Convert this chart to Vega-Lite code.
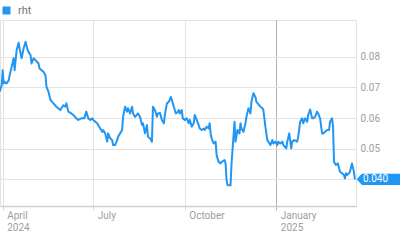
{
  "$schema": "https://vega.github.io/schema/vega-lite/v6.json",
  "autosize": {"type": "none"},
  "padding": {"left": 0, "top": 20, "right": 44, "bottom": 34},
  "width": 356,
  "height": 186,
  "config": {
    "font": "Roboto",
    "view": {"stroke": "#e3e3e3"},
    "legend": {"padding": 0}
  },
  "data": {"values": [
    {"date": "2024-03-29", "v": 0.0686},
    {"date": "2024-03-31", "v": 0.0707},
    {"date": "2024-04-01", "v": 0.0756},
    {"date": "2024-04-02", "v": 0.0713},
    {"date": "2024-04-03", "v": 0.0718},
    {"date": "2024-04-05", "v": 0.0713},
    {"date": "2024-04-07", "v": 0.0723},
    {"date": "2024-04-08", "v": 0.0740},
    {"date": "2024-04-10", "v": 0.0767},
    {"date": "2024-04-12", "v": 0.0795},
    {"date": "2024-04-13", "v": 0.0756},
    {"date": "2024-04-15", "v": 0.0822},
    {"date": "2024-04-17", "v": 0.0846},
    {"date": "2024-04-18", "v": 0.0827},
    {"date": "2024-04-20", "v": 0.0795},
    {"date": "2024-04-22", "v": 0.0827},
    {"date": "2024-04-24", "v": 0.0849},
    {"date": "2024-04-26", "v": 0.0822},
    {"date": "2024-04-27", "v": 0.0816},
    {"date": "2024-04-29", "v": 0.0805},
    {"date": "2024-04-30", "v": 0.0778},
    {"date": "2024-05-02", "v": 0.0795},
    {"date": "2024-05-04", "v": 0.0789},
    {"date": "2024-05-07", "v": 0.0778},
    {"date": "2024-05-08", "v": 0.0762},
    {"date": "2024-05-12", "v": 0.0751},
    {"date": "2024-05-14", "v": 0.0740},
    {"date": "2024-05-15", "v": 0.0702},
    {"date": "2024-05-17", "v": 0.0686},
    {"date": "2024-05-19", "v": 0.0659},
    {"date": "2024-05-22", "v": 0.0648},
    {"date": "2024-05-25", "v": 0.0637},
    {"date": "2024-05-29", "v": 0.0626},
    {"date": "2024-05-30", "v": 0.0632},
    {"date": "2024-06-01", "v": 0.0642},
    {"date": "2024-06-03", "v": 0.0637},
    {"date": "2024-06-04", "v": 0.0648},
    {"date": "2024-06-06", "v": 0.0621},
    {"date": "2024-06-09", "v": 0.0615},
    {"date": "2024-06-11", "v": 0.0610},
    {"date": "2024-06-14", "v": 0.0599},
    {"date": "2024-06-16", "v": 0.0594},
    {"date": "2024-06-19", "v": 0.0599},
    {"date": "2024-06-22", "v": 0.0599},
    {"date": "2024-06-24", "v": 0.0621},
    {"date": "2024-06-26", "v": 0.0599},
    {"date": "2024-06-28", "v": 0.0594},
    {"date": "2024-06-30", "v": 0.0599},
    {"date": "2024-07-01", "v": 0.0594},
    {"date": "2024-07-05", "v": 0.0583},
    {"date": "2024-07-08", "v": 0.0566},
    {"date": "2024-07-10", "v": 0.0555},
    {"date": "2024-07-11", "v": 0.0561},
    {"date": "2024-07-13", "v": 0.0550},
    {"date": "2024-07-15", "v": 0.0523},
    {"date": "2024-07-16", "v": 0.0550},
    {"date": "2024-07-18", "v": 0.0534},
    {"date": "2024-07-20", "v": 0.0528},
    {"date": "2024-07-21", "v": 0.0512},
    {"date": "2024-07-23", "v": 0.0512},
    {"date": "2024-07-25", "v": 0.0528},
    {"date": "2024-07-26", "v": 0.0539},
    {"date": "2024-07-28", "v": 0.0550},
    {"date": "2024-07-30", "v": 0.0561},
    {"date": "2024-07-31", "v": 0.0604},
    {"date": "2024-08-02", "v": 0.0637},
    {"date": "2024-08-04", "v": 0.0621},
    {"date": "2024-08-05", "v": 0.0632},
    {"date": "2024-08-07", "v": 0.0615},
    {"date": "2024-08-09", "v": 0.0637},
    {"date": "2024-08-10", "v": 0.0615},
    {"date": "2024-08-12", "v": 0.0604},
    {"date": "2024-08-15", "v": 0.0615},
    {"date": "2024-08-17", "v": 0.0604},
    {"date": "2024-08-19", "v": 0.0577},
    {"date": "2024-08-20", "v": 0.0583},
    {"date": "2024-08-22", "v": 0.0550},
    {"date": "2024-08-24", "v": 0.0577},
    {"date": "2024-08-25", "v": 0.0539},
    {"date": "2024-08-27", "v": 0.0534},
    {"date": "2024-08-29", "v": 0.0523},
    {"date": "2024-08-30", "v": 0.0637},
    {"date": "2024-09-01", "v": 0.0626},
    {"date": "2024-09-03", "v": 0.0604},
    {"date": "2024-09-04", "v": 0.0615},
    {"date": "2024-09-06", "v": 0.0617},
    {"date": "2024-09-08", "v": 0.0594},
    {"date": "2024-09-10", "v": 0.0583},
    {"date": "2024-09-11", "v": 0.0610},
    {"date": "2024-09-13", "v": 0.0648},
    {"date": "2024-09-15", "v": 0.0653},
    {"date": "2024-09-17", "v": 0.0669},
    {"date": "2024-09-19", "v": 0.0648},
    {"date": "2024-09-20", "v": 0.0637},
    {"date": "2024-09-22", "v": 0.0615},
    {"date": "2024-09-24", "v": 0.0620},
    {"date": "2024-09-25", "v": 0.0626},
    {"date": "2024-09-26", "v": 0.0615},
    {"date": "2024-09-28", "v": 0.0626},
    {"date": "2024-09-29", "v": 0.0599},
    {"date": "2024-10-01", "v": 0.0594},
    {"date": "2024-10-03", "v": 0.0599},
    {"date": "2024-10-05", "v": 0.0583},
    {"date": "2024-10-06", "v": 0.0594},
    {"date": "2024-10-08", "v": 0.0572},
    {"date": "2024-10-10", "v": 0.0583},
    {"date": "2024-10-11", "v": 0.0610},
    {"date": "2024-10-13", "v": 0.0594},
    {"date": "2024-10-15", "v": 0.0577},
    {"date": "2024-10-16", "v": 0.0566},
    {"date": "2024-10-18", "v": 0.0561},
    {"date": "2024-10-20", "v": 0.0566},
    {"date": "2024-10-21", "v": 0.0561},
    {"date": "2024-10-23", "v": 0.0572},
    {"date": "2024-10-25", "v": 0.0566},
    {"date": "2024-10-26", "v": 0.0583},
    {"date": "2024-10-27", "v": 0.0550},
    {"date": "2024-10-28", "v": 0.0534},
    {"date": "2024-10-30", "v": 0.0517},
    {"date": "2024-11-01", "v": 0.0523},
    {"date": "2024-11-02", "v": 0.0479},
    {"date": "2024-11-04", "v": 0.0457},
    {"date": "2024-11-06", "v": 0.0452},
    {"date": "2024-11-07", "v": 0.0457},
    {"date": "2024-11-10", "v": 0.0463},
    {"date": "2024-11-11", "v": 0.0452},
    {"date": "2024-11-12", "v": 0.0398},
    {"date": "2024-11-13", "v": 0.0381},
    {"date": "2024-11-16", "v": 0.0381},
    {"date": "2024-11-17", "v": 0.0452},
    {"date": "2024-11-20", "v": 0.0588},
    {"date": "2024-11-21", "v": 0.0523},
    {"date": "2024-11-23", "v": 0.0561},
    {"date": "2024-11-25", "v": 0.0550},
    {"date": "2024-11-26", "v": 0.0583},
    {"date": "2024-11-27", "v": 0.0566},
    {"date": "2024-11-29", "v": 0.0555},
    {"date": "2024-12-01", "v": 0.0583},
    {"date": "2024-12-02", "v": 0.0604},
    {"date": "2024-12-04", "v": 0.0632},
    {"date": "2024-12-06", "v": 0.0615},
    {"date": "2024-12-07", "v": 0.0653},
    {"date": "2024-12-09", "v": 0.0681},
    {"date": "2024-12-11", "v": 0.0669},
    {"date": "2024-12-12", "v": 0.0653},
    {"date": "2024-12-16", "v": 0.0637},
    {"date": "2024-12-18", "v": 0.0632},
    {"date": "2024-12-19", "v": 0.0626},
    {"date": "2024-12-21", "v": 0.0572},
    {"date": "2024-12-23", "v": 0.0528},
    {"date": "2024-12-24", "v": 0.0523},
    {"date": "2024-12-26", "v": 0.0512},
    {"date": "2024-12-28", "v": 0.0528},
    {"date": "2024-12-29", "v": 0.0517},
    {"date": "2024-12-31", "v": 0.0523},
    {"date": "2025-01-02", "v": 0.0512},
    {"date": "2025-01-03", "v": 0.0523},
    {"date": "2025-01-05", "v": 0.0517},
    {"date": "2025-01-07", "v": 0.0523},
    {"date": "2025-01-08", "v": 0.0512},
    {"date": "2025-01-11", "v": 0.0501},
    {"date": "2025-01-12", "v": 0.0523},
    {"date": "2025-01-14", "v": 0.0550},
    {"date": "2025-01-16", "v": 0.0501},
    {"date": "2025-01-17", "v": 0.0523},
    {"date": "2025-01-19", "v": 0.0528},
    {"date": "2025-01-22", "v": 0.0523},
    {"date": "2025-01-23", "v": 0.0539},
    {"date": "2025-01-25", "v": 0.0588},
    {"date": "2025-01-27", "v": 0.0599},
    {"date": "2025-01-28", "v": 0.0583},
    {"date": "2025-01-30", "v": 0.0599},
    {"date": "2025-02-01", "v": 0.0588},
    {"date": "2025-02-02", "v": 0.0610},
    {"date": "2025-02-04", "v": 0.0628},
    {"date": "2025-02-06", "v": 0.0599},
    {"date": "2025-02-07", "v": 0.0599},
    {"date": "2025-02-09", "v": 0.0604},
    {"date": "2025-02-11", "v": 0.0621},
    {"date": "2025-02-12", "v": 0.0615},
    {"date": "2025-02-14", "v": 0.0599},
    {"date": "2025-02-16", "v": 0.0550},
    {"date": "2025-02-17", "v": 0.0550},
    {"date": "2025-02-19", "v": 0.0555},
    {"date": "2025-02-21", "v": 0.0561},
    {"date": "2025-02-23", "v": 0.0561},
    {"date": "2025-02-24", "v": 0.0588},
    {"date": "2025-02-26", "v": 0.0599},
    {"date": "2025-02-27", "v": 0.0572},
    {"date": "2025-02-28", "v": 0.0457},
    {"date": "2025-03-02", "v": 0.0447},
    {"date": "2025-03-04", "v": 0.0452},
    {"date": "2025-03-05", "v": 0.0436},
    {"date": "2025-03-06", "v": 0.0425},
    {"date": "2025-03-08", "v": 0.0420},
    {"date": "2025-03-10", "v": 0.0414},
    {"date": "2025-03-11", "v": 0.0403},
    {"date": "2025-03-12", "v": 0.0420},
    {"date": "2025-03-13", "v": 0.0414},
    {"date": "2025-03-15", "v": 0.0420},
    {"date": "2025-03-16", "v": 0.0425},
    {"date": "2025-03-18", "v": 0.0452},
    {"date": "2025-03-20", "v": 0.0425},
    {"date": "2025-03-21", "v": 0.0400}
  ]},
  "encoding": {
    "x": {
      "field": "date",
      "type": "temporal",
      "scale": {
        "type": "utc",
        "domain": [
          {"year": 2024, "month": 3, "date": 29, "hours": 7, "utc": true},
          {"year": 2025, "month": 3, "date": 22, "hours": 2, "utc": true}
        ]
      },
      "axis": {
        "title": null,
        "orient": "bottom",
        "values": [
          {"year": 2024, "month": 4, "date": 1, "utc": true},
          {"year": 2024, "month": 7, "date": 1, "utc": true},
          {"year": 2024, "month": 10, "date": 1, "utc": true},
          {"year": 2025, "month": 1, "date": 1, "utc": true}
        ],
        "labelExpr": "(utcmonth(datum.value) == 0 || (utcmonth(datum.value) == 3 && utcyear(datum.value) == 2024)) ? [utcFormat(datum.value, '%B'), utcFormat(datum.value, '%Y')] : utcFormat(datum.value, '%B')",
        "labelAlign": "left",
        "labelBaseline": "top",
        "labelOffset": 4,
        "labelPadding": 0,
        "labelLineHeight": 12,
        "labelFontSize": 10,
        "labelColor": "#9e9e9e",
        "labelFont": "Roboto",
        "labelFlush": false,
        "labelOverlap": false,
        "tickSize": 4,
        "tickColor": {"condition": {"test": "utcmonth(datum.value) == 0", "value": "#b0b0b0"}, "value": "#dcdcdc"},
        "grid": true,
        "gridColor": {"condition": {"test": "utcmonth(datum.value) == 0", "value": "#b0b0b0"}, "value": "#e3e3e3"},
        "domainColor": "#cfcfcf",
        "domainWidth": 1.5
      }
    },
    "y": {
      "field": "v",
      "type": "quantitative",
      "scale": {"domain": [0.0313, 0.092], "zero": false, "nice": false},
      "axis": {
        "title": null,
        "orient": "right",
        "values": [0.04, 0.05, 0.06, 0.07, 0.08],
        "labelExpr": "datum.value < 0.045 ? '' : format(datum.value, '.2f')",
        "ticks": false,
        "domain": false,
        "grid": true,
        "gridColor": "#e3e3e3",
        "labelPadding": 4,
        "labelFontSize": 10,
        "labelColor": "#9e9e9e",
        "labelFont": "Roboto"
      }
    }
  },
  "layer": [
    {
      "mark": {"type": "line", "strokeWidth": 2, "strokeJoin": "round"},
      "encoding": {
        "color": {
          "datum": "rht",
          "scale": {"range": ["#2196F3"]},
          "legend": {
            "title": null,
            "orient": "none",
            "legendX": 1,
            "legendY": -15,
            "symbolType": "square",
            "symbolSize": 64,
            "symbolFillColor": "#2196F3",
            "symbolStrokeColor": "#2196F3",
            "symbolStrokeWidth": 0,
            "symbolOpacity": 1,
            "labelFontSize": 11,
            "labelColor": "#757575",
            "labelFont": "Roboto",
            "labelOffset": 6
          }
        }
      }
    },
    {
      "transform": [
        {"window": [{"op": "row_number", "as": "rn"}], "sort": [{"field": "date", "order": "descending"}]},
        {"filter": "datum.rn == 1"}
      ],
      "mark": {
        "type": "point",
        "shape": "M0.17,0L0.7,-0.57L5,-0.57L5,0.57L0.7,0.57Z",
        "size": 400,
        "filled": true,
        "opacity": 1,
        "color": "#2196F3",
        "strokeWidth": 0
      }
    },
    {
      "transform": [
        {"window": [{"op": "row_number", "as": "rn"}], "sort": [{"field": "date", "order": "descending"}]},
        {"filter": "datum.rn == 1"}
      ],
      "mark": {"type": "text", "align": "left", "baseline": "middle", "dx": 8, "color": "#ffffff", "fontSize": 10, "font": "Roboto"},
      "encoding": {
        "text": {"field": "v", "type": "quantitative", "format": ".3f"}
      }
    }
  ]
}
